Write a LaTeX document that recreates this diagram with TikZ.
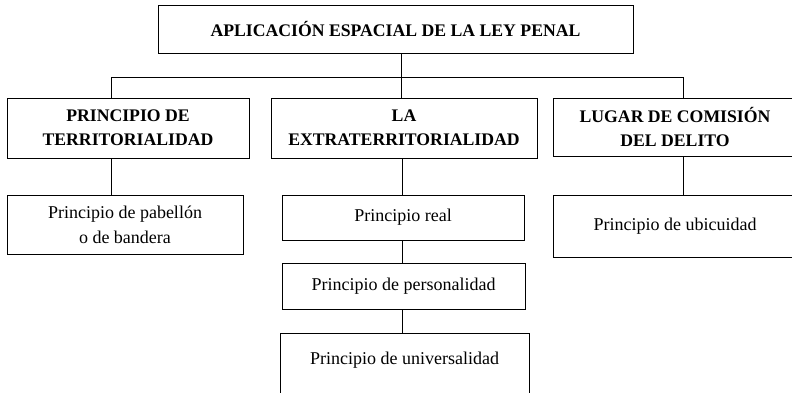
\documentclass[tikz,border=0pt]{standalone}
\usepackage{fontspec}
\setmainfont{Liberation Serif}
\begin{document}
\begin{tikzpicture}[x=1pt,y=-1pt,
  box/.style={draw=black, line width=0.9pt, inner sep=0pt, align=center, fill=white},
  head/.style={box, font=\fontsize{17.7}{24}\selectfont\bfseries},
  leaf/.style={box, font=\fontsize{18}{25}\selectfont},
  link/.style={draw=black, line width=0.9pt}]
\useasboundingbox (0,0) rectangle (792,392);
\clip (0,0) rectangle (792,392);
% boxes
\node[head, minimum width=475, minimum height=48] (top) at (395.5,29) {APLICACIÓN ESPACIAL DE LA LEY PENAL};
\node[head, minimum width=242, minimum height=60] (t1) at (128,128) {PRINCIPIO DE\\TERRITORIALIDAD};
\node[head, minimum width=266, minimum height=60] (t2) at (404,128) {LA\\EXTRATERRITORIALIDAD};
\node[head, minimum width=244, minimum height=58] (t3) at (675,127) {LUGAR DE COMISIÓN\\DEL DELITO};
\node[leaf, minimum width=236, minimum height=59] (c1) at (125,224.5) {Principio de pabellón\\o de bandera};
\node[leaf, minimum width=242, minimum height=45] (c2) at (403,217.5) {Principio real};
\node[leaf, minimum width=243, minimum height=46] (c3) at (403.5,286) {Principio de personalidad};
\node[leaf, minimum width=249, minimum height=70] (c4) at (404.5,368) {\raisebox{19pt}{Principio de universalidad}};
\node[leaf, minimum width=244, minimum height=62] (c5) at (675,226) {Principio de ubicuidad};
% bar coordinates
\coordinate (bl) at (111,77);
\coordinate (bm) at (401.5,77);
\coordinate (br) at (683.5,77);
\coordinate (cm) at (402,0);
% connectors
\draw[link] (bl) -- (br);
\draw[link] (bm |- top.south) -- (bm |- t2.north);
\draw[link] (bl) -- (bl |- t1.north);
\draw[link] (br) -- (br |- t3.north);
\draw[link] (bl |- t1.south) -- (bl |- c1.north);
\draw[link] (cm |- t2.south) -- (cm |- c2.north);
\draw[link] (cm |- c2.south) -- (cm |- c3.north);
\draw[link] (cm |- c3.south) -- (cm |- c4.north);
\draw[link] (br |- t3.south) -- (br |- c5.north);
\end{tikzpicture}
\end{document}
